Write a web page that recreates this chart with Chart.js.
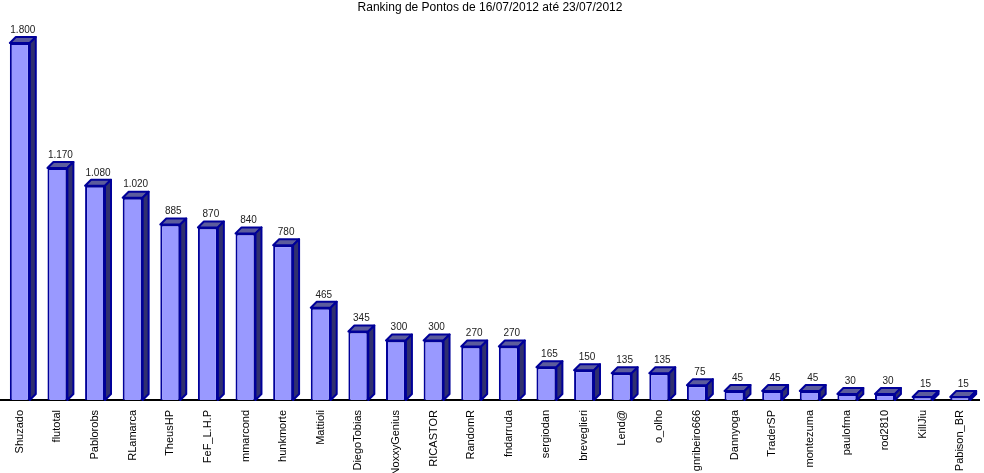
<!DOCTYPE html>
<html>
<head>
<meta charset="utf-8">
<script src="https://cdn.jsdelivr.net/npm/chart.js@4/dist/chart.umd.min.js"></script>
<style>
  html, body { margin: 0; padding: 0; background: #fff; }
  #wrap { width: 984px; height: 473px; position: relative; }
</style>
</head>
<body>
<div id="wrap"><canvas id="chart"></canvas></div>
<script>
var players = ['Shuzado','flutotal','Pablorobs','RLamarca','TheusHP','FeF_L.H.P','mmarcond','hunkmorte','Mattioli',
  'DiegoTobias','NoxxyGenius','RICASTOR','RandomR','fndarruda','sergiodan','breveglieri','Lend@','o_olho',
  'gnribeiro666','Dannyoga','TraderSP','montezuma','paulofma','rod2810','KillJiu','Pabison_BR'];
var points = [1800,1170,1080,1020,885,870,840,780,465,345,300,300,270,270,165,150,135,135,75,45,45,45,30,30,15,15];
var chartTitle = 'Ranking de Pontos de 16/07/2012 até 23/07/2012';

var DEPTH = 6;

function fmt(v) {
  return String(v).replace(/\B(?=(\d{3})+(?!\d))/g, '.');
}

// draws top + side faces and the value above each bar
var bars3d = {
  id: 'bars3d',
  afterDatasetsDraw: function(chart) {
    var ctx = chart.ctx;
    var meta = chart.getDatasetMeta(0);
    ctx.save();
    ctx.lineWidth = 2;
    ctx.lineJoin = 'round';
    ctx.strokeStyle = '#000099';
    meta.data.forEach(function(bar, i) {
      var l = bar.x - bar.width / 2, r = bar.x + bar.width / 2;
      var t = bar.y, b = bar.base, d = DEPTH;
      // top
      ctx.beginPath();
      ctx.moveTo(l, t); ctx.lineTo(l + d, t - d); ctx.lineTo(r + d, t - d); ctx.lineTo(r, t);
      ctx.closePath();
      ctx.fillStyle = '#5c5c9c';
      ctx.fill(); ctx.stroke();
      // side
      ctx.beginPath();
      ctx.moveTo(r, t); ctx.lineTo(r + d, t - d); ctx.lineTo(r + d, b - d); ctx.lineTo(r, b);
      ctx.closePath();
      ctx.fillStyle = '#30306e';
      ctx.fill(); ctx.stroke();
    });
    ctx.fillStyle = '#222';
    ctx.font = '10px "Liberation Sans", Arial, sans-serif';
    ctx.textAlign = 'center';
    ctx.textBaseline = 'bottom';
    meta.data.forEach(function(bar, i) {
      ctx.fillText(fmt(points[i]), bar.x + DEPTH / 2, bar.y - DEPTH - 2);
    });
    ctx.restore();
  }
};

var ctx = document.getElementById('chart');
var chart = new Chart(ctx, {
  type: 'bar',
  data: {
    labels: players,
    datasets: [{
      label: 'Pontos',
      data: points,
      backgroundColor: '#9999ff',
      borderColor: '#000099',
      borderWidth: 2,
      barPercentage: 0.53,
      categoryPercentage: 1
    }]
  },
  options: {
    responsive: true,
    maintainAspectRatio: false,
    animation: false,
    layout: { padding: { left: 1, right: 5, top: 0, bottom: 0 } },
    plugins: {
      legend: { display: false },
      tooltip: { enabled: false },
      title: {
        display: true,
        text: chartTitle,
        color: '#000',
        font: { family: '"Liberation Sans", Arial, sans-serif', size: 12, weight: 'normal' },
        padding: { top: 0, bottom: 28.6 }
      }
    },
    scales: {
      x: {
        grid: { display: false },
        border: { display: true, color: '#000', width: 2 },
        ticks: {
          color: '#000',
          autoSkip: false,
          minRotation: 90,
          maxRotation: 90,
          padding: 2,
          font: { family: '"Liberation Sans", Arial, sans-serif', size: 11 }
        },
        afterFit: function(scale) { scale.height = 73; }
      },
      y: {
        display: false,
        min: 0,
        max: 1800
      }
    }
  },
  plugins: [bars3d]
});
</script>
</body>
</html>
